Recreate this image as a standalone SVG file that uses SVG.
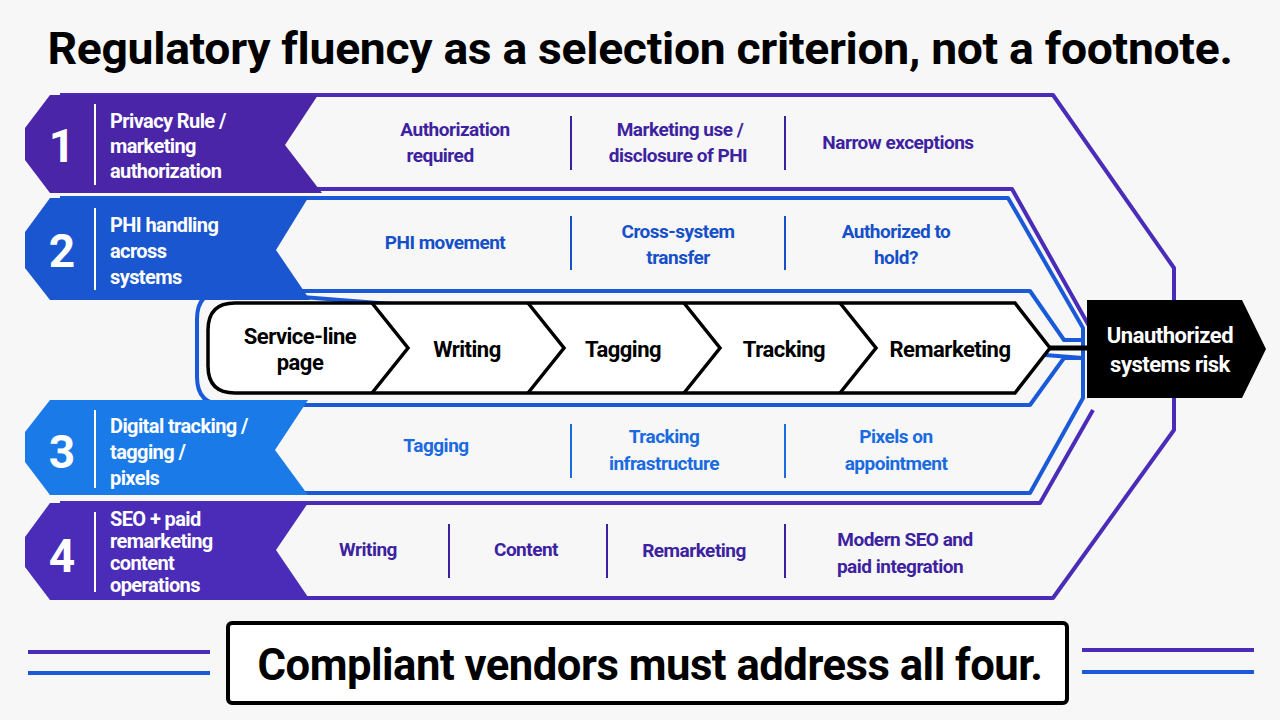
<svg xmlns="http://www.w3.org/2000/svg" width="1280" height="720" viewBox="0 0 1280 720">
<style>
.t{font-family:Roboto,"Liberation Sans",sans-serif;font-weight:bold}
.lab{font-family:Roboto,"Liberation Sans",sans-serif;font-weight:bold;font-size:20px;fill:#fff;letter-spacing:-0.6px}
.num{font-family:Roboto,"Liberation Sans",sans-serif;font-weight:bold;font-size:46px;fill:#fff}
.p{fill:#3d22a0;font-size:19px;letter-spacing:-0.5px}
.b{fill:#1550c8;font-size:19px;letter-spacing:-0.5px}
.b3{fill:#1a6ae0;font-size:19px;letter-spacing:-0.5px}
.f{fill:#000;font-size:22px;letter-spacing:-0.5px}
</style>
<rect width="1280" height="720" fill="#f7f7f8"/>
<text class="t" x="640" y="64" text-anchor="middle" font-size="45" letter-spacing="-0.3" textLength="1185" lengthAdjust="spacingAndGlyphs">Regulatory fluency as a selection criterion, not a footnote.</text>
<g id="connectors" fill="none" stroke-linejoin="round">
<path d="M60 95 H1053 L1174 268 V300" stroke="#4a2cb8" stroke-width="4"/>
<path d="M1174 398 V430 L1053 598 H60" stroke="#4a2cb8" stroke-width="4"/>
<path d="M60 189 H1012 L1093 333" stroke="#4a2cb8" stroke-width="4"/>
<path d="M1093 410 L1040 503 H60" stroke="#4a2cb8" stroke-width="4"/>
<path d="M60 198 H1008 L1083 328 V398 L1030 493 H60" stroke="#1a5ad8" stroke-width="4"/>
<path d="M225 291 H1030 L1064 340 H1083 M1083 358 H1064 L1030 405 H225 Q197 405 197 377 V319 Q197 291 225 291 Z" stroke="#1a5ad8" stroke-width="4"/>
<path d="M1050 348 H1088" stroke="#000" stroke-width="5"/>
</g>
<g id="band1">
<path d="M50 95 H318 L285 145 L322 193 H50 L25 160 V128 Z" fill="#4a25a8"/>
<line x1="95" y1="104" x2="95" y2="185" stroke="#fff" stroke-width="2"/>
<text class="num" x="62" y="162" text-anchor="middle">1</text>
<text class="lab" x="110" y="128">Privacy Rule /</text>
<text class="lab" x="110" y="153">marketing</text>
<text class="lab" x="110" y="178">authorization</text>
<line x1="571" y1="116" x2="571" y2="170" stroke="#3d22a0" stroke-width="2"/>
<line x1="785" y1="116" x2="785" y2="170" stroke="#3d22a0" stroke-width="2"/>
<text class="t p" x="455" y="136" text-anchor="middle">Authorization</text>
<text class="t p" x="440" y="162" text-anchor="middle">required</text>
<text class="t p" x="680" y="136" text-anchor="middle">Marketing use /</text>
<text class="t p" x="678" y="162" text-anchor="middle">disclosure of PHI</text>
<text class="t p" x="898" y="149" text-anchor="middle">Narrow exceptions</text>
</g>
<g id="band2">
<path d="M50 198 H308 L276 250 L310 300 H50 L25 268 V232 Z" fill="#1a56d0"/>
<line x1="95" y1="208" x2="95" y2="290" stroke="#fff" stroke-width="2"/>
<text class="num" x="62" y="267" text-anchor="middle">2</text>
<text class="lab" x="110" y="232">PHI handling</text>
<text class="lab" x="110" y="258">across</text>
<text class="lab" x="110" y="284">systems</text>
<line x1="571" y1="216" x2="571" y2="270" stroke="#1550c8" stroke-width="2"/>
<line x1="785" y1="216" x2="785" y2="270" stroke="#1550c8" stroke-width="2"/>
<text class="t b" x="445" y="249" text-anchor="middle">PHI movement</text>
<text class="t b" x="678" y="238" text-anchor="middle">Cross-system</text>
<text class="t b" x="678" y="264" text-anchor="middle">transfer</text>
<text class="t b" x="896" y="238" text-anchor="middle">Authorized to</text>
<text class="t b" x="896" y="264" text-anchor="middle">hold?</text>
</g>
<g id="flow">
<path d="M235 303 H1015 L1050 348 L1015 393 H235 Q208 393 208 366 V330 Q208 303 235 303 Z" fill="#fff" stroke="#000" stroke-width="3.5"/>
<path d="M372 303 L408 348 L372 393 M528 303 L564 348 L528 393 M684 303 L720 348 L684 393 M840 303 L876 348 L840 393" fill="none" stroke="#000" stroke-width="3.5"/>
<text class="t f" x="300" y="344" text-anchor="middle">Service-line</text>
<text class="t f" x="300" y="370" text-anchor="middle">page</text>
<text class="t f" x="467" y="357" text-anchor="middle">Writing</text>
<text class="t f" x="623" y="357" text-anchor="middle">Tagging</text>
<text class="t f" x="784" y="357" text-anchor="middle">Tracking</text>
<text class="t f" x="950" y="357" text-anchor="middle">Remarketing</text>
</g>
<g id="risk">
<path d="M1087 300 H1242 L1266 349 L1242 398 H1087 Z" fill="#000"/>
<text class="t" x="1170" y="343" text-anchor="middle" font-size="22" fill="#fff" letter-spacing="-0.5">Unauthorized</text>
<text class="t" x="1170" y="372" text-anchor="middle" font-size="22" fill="#fff" letter-spacing="-0.5">systems risk</text>
</g>
<g id="band3">
<path d="M50 400 H308 L275 450 L308 495 H50 L25 462 V432 Z" fill="#1a7ae8"/>
<line x1="95" y1="410" x2="95" y2="488" stroke="#fff" stroke-width="2"/>
<text class="num" x="62" y="468" text-anchor="middle">3</text>
<text class="lab" x="110" y="433">Digital tracking /</text>
<text class="lab" x="110" y="459">tagging /</text>
<text class="lab" x="110" y="485">pixels</text>
<line x1="571" y1="424" x2="571" y2="478" stroke="#1a6ae0" stroke-width="2"/>
<line x1="785" y1="424" x2="785" y2="478" stroke="#1a6ae0" stroke-width="2"/>
<text class="t b3" x="436" y="452" text-anchor="middle">Tagging</text>
<text class="t b3" x="664" y="443" text-anchor="middle">Tracking</text>
<text class="t b3" x="664" y="470" text-anchor="middle">infrastructure</text>
<text class="t b3" x="896" y="443" text-anchor="middle">Pixels on</text>
<text class="t b3" x="896" y="470" text-anchor="middle">appointment</text>
</g>
<g id="band4">
<path d="M50 503 H308 L276 550 L310 600 H50 L25 567 V537 Z" fill="#4a2cb8"/>
<line x1="95" y1="512" x2="95" y2="592" stroke="#fff" stroke-width="2"/>
<text class="num" x="62" y="572" text-anchor="middle">4</text>
<text class="lab" x="110" y="526" font-size="18">SEO + paid</text>
<text class="lab" x="110" y="548" font-size="18">remarketing</text>
<text class="lab" x="110" y="570" font-size="18">content</text>
<text class="lab" x="110" y="592" font-size="18">operations</text>
<line x1="449" y1="524" x2="449" y2="578" stroke="#3d22a0" stroke-width="2"/>
<line x1="607" y1="524" x2="607" y2="578" stroke="#3d22a0" stroke-width="2"/>
<line x1="785" y1="524" x2="785" y2="578" stroke="#3d22a0" stroke-width="2"/>
<text class="t p" x="368" y="556" text-anchor="middle">Writing</text>
<text class="t p" x="526" y="556" text-anchor="middle">Content</text>
<text class="t p" x="694" y="557" text-anchor="middle">Remarketing</text>
<text class="t p" x="905" y="546" text-anchor="middle">Modern SEO and</text>
<text class="t p" x="900" y="573" text-anchor="middle">paid integration</text>
</g>
<g id="footer">
<line x1="28" y1="652" x2="210" y2="652" stroke="#4a2cb8" stroke-width="4"/>
<line x1="28" y1="673" x2="210" y2="673" stroke="#1a5ad8" stroke-width="4"/>
<line x1="1082" y1="650" x2="1254" y2="650" stroke="#4a2cb8" stroke-width="4"/>
<line x1="1082" y1="672" x2="1254" y2="672" stroke="#1a5ad8" stroke-width="4"/>
<rect x="228" y="623" width="839" height="80" rx="4" fill="#fff" stroke="#000" stroke-width="4"/>
<text class="t" x="650" y="680" text-anchor="middle" font-size="45" letter-spacing="-0.5" textLength="785" lengthAdjust="spacingAndGlyphs">Compliant vendors must address all four.</text>
</g>
</svg>
